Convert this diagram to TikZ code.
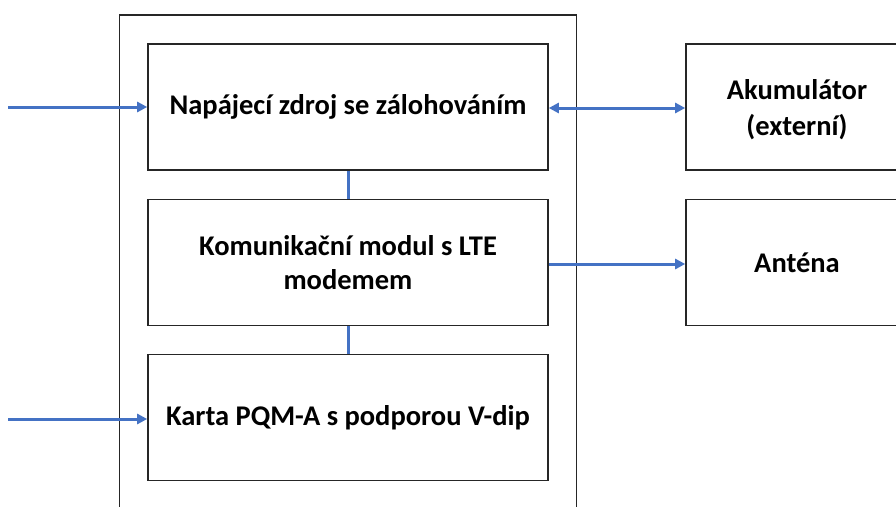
\documentclass[tikz,border=0pt]{standalone}
\usepackage{fontspec}
\setmainfont{Carlito}
\usetikzlibrary{arrows.meta}
\definecolor{lineblue}{HTML}{4472C4}
\tikzset{
  box/.style={draw=black!85, line width=1.6pt, minimum width=400pt, minimum height=126pt, align=center, inner sep=0pt, font=\fontsize{28.5}{34}\selectfont\bfseries},
  rbox/.style={draw=black!85, line width=1.6pt, minimum width=222pt, minimum height=126pt, align=center, inner sep=0pt, font=\fontsize{28.5}{36}\selectfont\bfseries},
  rtext/.style={align=center, inner sep=0pt, font=\fontsize{28.5}{36}\selectfont\bfseries},
  conn/.style={draw=lineblue, line width=3pt},
  arr/.style={conn, -{Triangle[length=10pt,width=10pt]}},
  darr/.style={conn, {Triangle[length=10pt,width=10pt]}-{Triangle[length=10pt,width=10pt]}}
}
\begin{document}
\begin{tikzpicture}[x=1pt,y=-1pt]
\useasboundingbox (0,0) rectangle (896,506);
\clip (0,0) rectangle (896,506);
\fill[white] (0,0) rectangle (896,506);
\node[draw=black!85, line width=1.6pt, minimum width=457pt, minimum height=520pt, inner sep=0pt] (outer) at (348,275) {};
\node[box] (psu) at (348,107) {Napájecí zdroj se zálohováním};
\node[box] (com) at (348,262.5) {Komunikační modul s LTE\\modemem};
\node[box] (pqm) at (348,417.5) {Karta PQM-A s podporou V-dip};
\node[rbox] (aku) at (797,107) {};
\node[rtext] (akut) at (797,110) {Akumulátor\\(externí)};
\node[rbox] (ant) at (797,262.5) {Anténa};
\coordinate (in1) at (8,107);
\coordinate (in2) at (8,419);
\coordinate (lv1) at (0,108);
\coordinate (lv2) at (0,264);
\draw[arr] (in1) -- (psu.west |- in1);
\draw[arr] (in2) -- (pqm.west |- in2);
\draw[darr] (psu.east |- lv1) -- (aku.west |- lv1);
\draw[arr] (com.east |- lv2) -- (ant.west |- lv2);
\draw[conn] (psu.south) -- (com.north);
\draw[conn] (com.south) -- (pqm.north);
\end{tikzpicture}
\end{document}
